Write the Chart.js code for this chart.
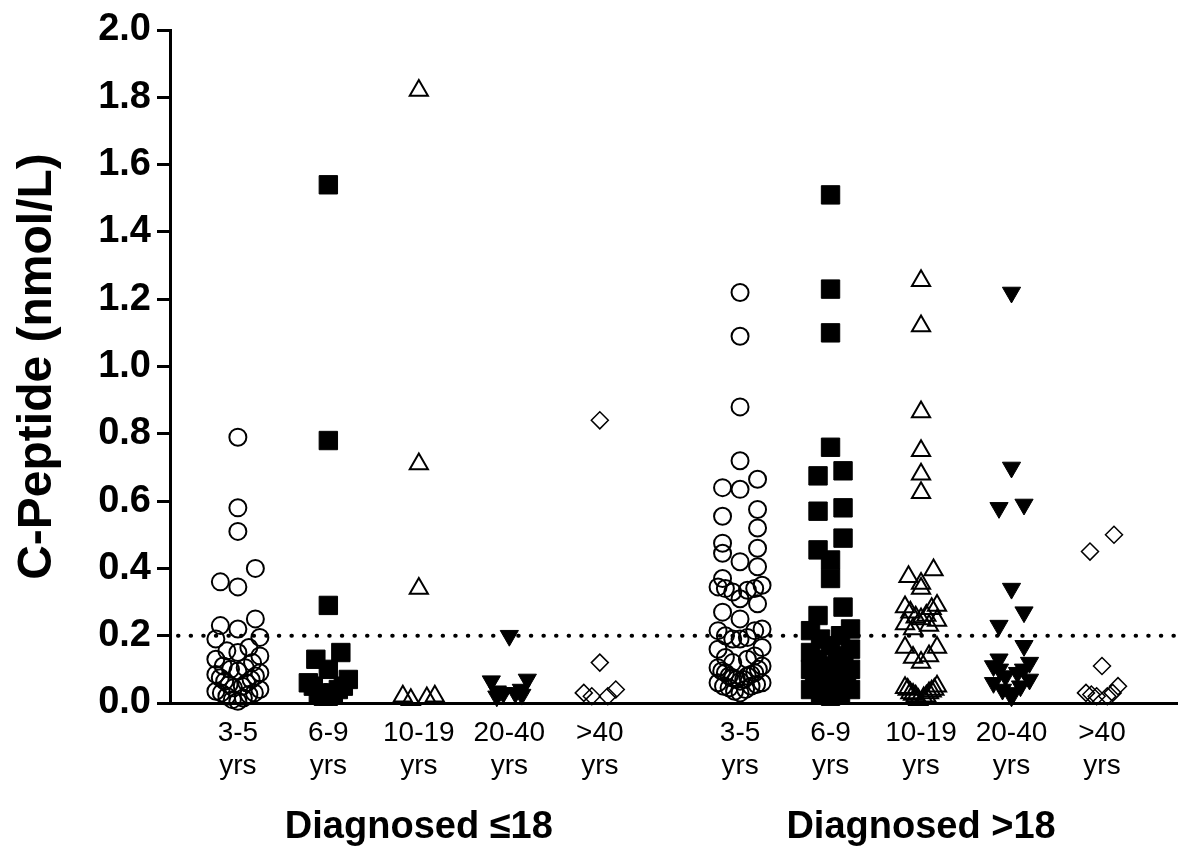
<!DOCTYPE html>
<html>
<head>
<meta charset="utf-8">
<style>
  html, body { margin: 0; padding: 0; background: #ffffff; }
  #wrap { width: 1178px; height: 854px; position: relative; }
</style>
<script src="https://cdn.jsdelivr.net/npm/chart.js@4.4.0/dist/chart.umd.min.js"></script>
</head>
<body>
<div id="wrap"><canvas id="chart" width="1178" height="854"></canvas></div>
<script>
// ---------------- DATA ----------------
const groupLabels = ['Diagnosed \u226418', 'Diagnosed >18'];
const ageCategories = ['3-5', '6-9', '10-19', '20-40', '>40'];
const ageUnit = 'yrs';
const yTickValues = [0, 0.2, 0.4, 0.6, 0.8, 1.0, 1.2, 1.4, 1.6, 1.8, 2.0];
const thresholdValue = 0.2;

// Diagnosed <=18
const le18_age3to5 = [0.79, 0.58, 0.51, 0.40, 0.36, 0.345, 0.25, 0.23, 0.22, 0.195, 0.19, 0.165, 0.155, 0.15,
  0.14, 0.13, 0.12, 0.11, 0.105, 0.10, 0.095, 0.09, 0.085, 0.08, 0.075, 0.07, 0.065, 0.06, 0.055, 0.05,
  0.045, 0.04, 0.035, 0.03, 0.03, 0.025, 0.02, 0.015, 0.01, 0.005];
const le18_age6to9 = [1.54, 0.78, 0.29, 0.15, 0.13, 0.10, 0.07, 0.06, 0.05, 0.05, 0.04, 0.03, 0.03, 0.02, 0.02];
const le18_age10to19 = [1.82, 0.71, 0.34, 0.02, 0.02, 0.015, 0.01];
const le18_age20to40 = [0.20, 0.07, 0.065, 0.04, 0.035, 0.03, 0.03, 0.025, 0.02];
const le18_ageOver40 = [0.84, 0.12, 0.04, 0.03, 0.02, 0.02];

// Diagnosed >18
const gt18_age3to5 = [1.22, 1.09, 0.88, 0.72, 0.665, 0.64, 0.635, 0.575, 0.555, 0.52, 0.475, 0.46, 0.445,
  0.42, 0.405, 0.37, 0.35, 0.345, 0.34, 0.34, 0.335, 0.33, 0.31, 0.295, 0.27, 0.25, 0.22, 0.215, 0.215,
  0.20, 0.195, 0.19, 0.19, 0.165, 0.16, 0.14, 0.135, 0.13, 0.12, 0.11, 0.105, 0.10, 0.095, 0.09, 0.09,
  0.085, 0.08, 0.08, 0.075, 0.07, 0.07, 0.065, 0.06, 0.06, 0.055, 0.05, 0.05, 0.045, 0.04, 0.035, 0.03];
const gt18_age6to9 = [1.51, 1.23, 1.10, 0.76, 0.69, 0.675, 0.58, 0.57, 0.49, 0.455, 0.425, 0.37, 0.285, 0.26,
  0.22, 0.215, 0.20, 0.19, 0.17, 0.16, 0.15, 0.14, 0.13, 0.12, 0.11, 0.10, 0.10, 0.09, 0.08, 0.08, 0.07,
  0.07, 0.06, 0.06, 0.05, 0.05, 0.04, 0.04, 0.03, 0.03, 0.02];
const gt18_age10to19 = [1.255, 1.12, 0.865, 0.75, 0.68, 0.625, 0.395, 0.375, 0.355, 0.34, 0.29, 0.285, 0.28,
  0.27, 0.26, 0.255, 0.25, 0.245, 0.235, 0.23, 0.22, 0.165, 0.165, 0.14, 0.135, 0.12, 0.05, 0.045, 0.04,
  0.04, 0.035, 0.03, 0.03, 0.025, 0.02, 0.02, 0.015, 0.01];
const gt18_age20to40 = [1.22, 0.70, 0.59, 0.58, 0.34, 0.27, 0.23, 0.17, 0.13, 0.12, 0.11, 0.10, 0.10, 0.09,
  0.08, 0.07, 0.06, 0.05, 0.04, 0.03, 0.02];
const gt18_ageOver40 = [0.50, 0.45, 0.11, 0.05, 0.03, 0.03, 0.025, 0.02, 0.02];

const seriesByGroup = [
  [le18_age3to5, le18_age6to9, le18_age10to19, le18_age20to40, le18_ageOver40],
  [gt18_age3to5, gt18_age6to9, gt18_age10to19, gt18_age20to40, gt18_ageOver40]
];

// ---------------- LAYOUT / STYLE ----------------
const FONT = '"Liberation Sans", Arial, Helvetica, sans-serif';
const GROUP_GAP = 0.55;              // extra space between the two groups (category units)
const X_MIN = 0.25, X_MAX = 11.39;
const CHART_LEFT = 170, CHART_TOP = 30, CHART_BOTTOM = 703, CHART_RIGHT = 1178;
const PX_PER_X = (CHART_RIGHT - CHART_LEFT) / (X_MAX - X_MIN);
const PX_PER_Y = (CHART_BOTTOM - CHART_TOP) / 2;

function catPos(g, i) { return 1 + i + g * (ageCategories.length + GROUP_GAP); }
const tickPositions = [];
const tickNames = [];
groupLabels.forEach((_, g) => ageCategories.forEach((c, i) => { tickPositions.push(catPos(g, i)); tickNames.push(c); }));

// marker styles per age category
const markerStyles = [
  { pointStyle: 'circle',   radius: 8.5,  fill: 'rgba(0,0,0,0)', border: 2,   rotation: 0,   step: 17.5, rowPx: 16, maxHalf: 22 },
  { pointStyle: 'rect',     radius: 13,   fill: '#000',          border: 1,   rotation: 0,   step: 12.5, rowPx: 17, maxHalf: 20 },
  { pointStyle: 'triangle', radius: 10.5, fill: 'rgba(0,0,0,0)', border: 2,   rotation: 0,   step: 12.5, rowPx: 15, maxHalf: 16 },
  { pointStyle: 'triangle', radius: 10.5, fill: '#000',          border: 1,   rotation: 180, step: 12.5, rowPx: 15, maxHalf: 18 },
  { pointStyle: 'rectRot',  radius: 8.5,  fill: 'rgba(0,0,0,0)', border: 1.5, rotation: 0,   step: 12,   rowPx: 18, maxHalf: 16 }
];

// GraphPad-like scatter arrangement: group close values into rows (top-down),
// spread each row sideways with the lowest values nearest the centre.
function arrange(values, center, st) {
  const sorted = values.slice().sort((a, b) => b - a);
  const rowH = st.rowPx / PX_PER_Y;
  const rows = [];
  let cur = null;
  sorted.forEach(v => {
    if (!cur || cur.start - v > rowH) { cur = { start: v, vals: [] }; rows.push(cur); }
    cur.vals.push(v);
  });
  const pts = [];
  rows.forEach(r => {
    const vals = r.vals.slice().sort((a, b) => a - b);
    const n = vals.length;
    const maxSlot = n % 2 ? Math.floor(n / 2) : n / 2;
    const step = maxSlot > 0 ? Math.min(st.step, st.maxHalf / maxSlot) : st.step;
    vals.forEach((v, j) => {
      let slot;
      if (n % 2) slot = j === 0 ? 0 : (j % 2 ? -1 : 1) * Math.ceil(j / 2);
      else slot = (j % 2 ? 1 : -1) * (Math.floor(j / 2) + 1);
      pts.push({ x: center + slot * step / PX_PER_X, y: v });
    });
  });
  return pts;
}

const datasets = [];
seriesByGroup.forEach((series, g) => {
  series.forEach((vals, i) => {
    const st = markerStyles[i];
    datasets.push({
      type: 'scatter',
      label: groupLabels[g] + ' ' + ageCategories[i],
      data: arrange(vals, catPos(g, i), st),
      pointStyle: st.pointStyle,
      pointRadius: st.radius,
      pointRotation: st.rotation,
      pointBackgroundColor: st.fill,
      pointBorderColor: '#000',
      pointBorderWidth: st.border,
      clip: false,
      order: 1
    });
  });
});

datasets.push({
  type: 'line',
  label: 'threshold',
  data: [{ x: X_MIN, y: thresholdValue }, { x: X_MAX, y: thresholdValue }],
  borderColor: '#000',
  borderWidth: 4,
  borderDash: [0.5, 12.1],
  borderDashOffset: -8,
  borderCapStyle: 'round',
  pointRadius: 0,
  fill: false,
  order: 2
});

const groupLabelPlugin = {
  id: 'groupLabelPlugin',
  afterDraw(chart) {
    const ctx = chart.ctx, xs = chart.scales.x;
    ctx.save();
    ctx.font = 'bold 38px ' + FONT;
    ctx.fillStyle = '#000';
    ctx.textAlign = 'center';
    ctx.textBaseline = 'middle';
    groupLabels.forEach((lbl, g) => {
      const mid = (catPos(g, 0) + catPos(g, ageCategories.length - 1)) / 2;
      ctx.fillText(lbl, xs.getPixelForValue(mid), chart.height - 26);
    });
    ctx.restore();
  }
};

new Chart(document.getElementById('chart'), {
  data: { datasets },
  options: {
    responsive: false,
    animation: false,
    events: [],
    devicePixelRatio: 1,
    layout: { autoPadding: false, padding: { top: CHART_TOP, right: 0, bottom: 0, left: 0 } },
    plugins: { legend: { display: false }, tooltip: { enabled: false } },
    scales: {
      x: {
        type: 'linear',
        min: X_MIN,
        max: X_MAX,
        afterBuildTicks: s => { s.ticks = tickPositions.map(v => ({ value: v })); },
        afterFit: s => { s.height = 854 - CHART_BOTTOM; s.paddingLeft = 0; s.paddingRight = 0; },
        ticks: {
          autoSkip: false,
          maxRotation: 0,
          minRotation: 0,
          padding: 13,
          color: '#000',
          font: { family: FONT, size: 28 },
          callback: (v) => {
            const k = tickPositions.findIndex(p => Math.abs(p - v) < 1e-6);
            return k >= 0 ? [tickNames[k], ageUnit] : '';
          }
        },
        grid: { display: true, drawOnChartArea: false, drawTicks: false },
        border: { display: true, color: '#000', width: 3 }
      },
      y: {
        type: 'linear',
        min: 0,
        max: 2,
        afterBuildTicks: s => { s.ticks = yTickValues.map(v => ({ value: v })); },
        afterFit: s => { s.width = CHART_LEFT; },
        ticks: {
          padding: 6,
          color: '#000',
          font: { family: FONT, size: 38, weight: 'bold' },
          callback: v => Number(v).toFixed(1)
        },
        grid: { drawOnChartArea: false, drawTicks: true, tickLength: 13, tickWidth: 3, tickColor: '#000' },
        border: { display: true, color: '#000', width: 3 },
        title: {
          display: true,
          text: 'C-Peptide (nmol/L)',
          color: '#000',
          font: { family: FONT, size: 48, weight: 'bold' },
          padding: { top: 9, bottom: 0 }
        }
      }
    }
  },
  plugins: [groupLabelPlugin]
});
</script>
</body>
</html>
